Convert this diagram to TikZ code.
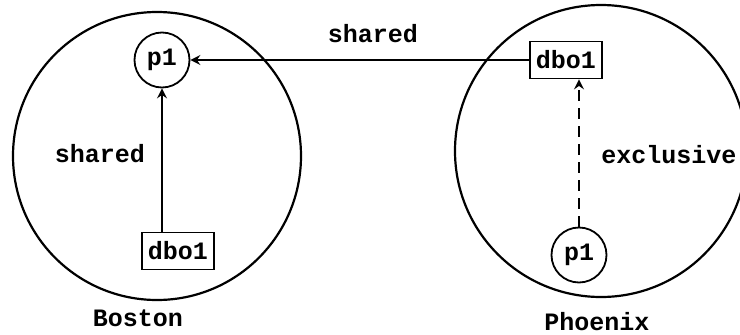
\documentclass[tikz,border=0pt]{standalone}
\usepackage{fontspec}
\setmonofont{Liberation Mono}
\usetikzlibrary{arrows.meta}
\begin{document}
\begin{tikzpicture}[x=1pt,y=-1pt,
  every node/.style={font=\fontsize{25}{30}\selectfont\ttfamily\bfseries},
  site/.style={draw,line width=2.2pt},
  proc/.style={draw,circle,line width=1.8pt,minimum size=55pt,inner sep=0pt},
  obj/.style={draw,rectangle,line width=1.8pt,minimum width=72pt,minimum height=37pt,inner sep=0pt},
  conn/.style={line width=1.8pt,-{Stealth[length=10pt,width=10pt,inset=3.5pt]}},
  lbl/.style={inner sep=0pt}]
\useasboundingbox (0,0) rectangle (740,335);
\draw[site] (157,156) circle[radius=144];
\draw[site] (601,151) circle[radius=146];
\node[proc] (bp1) at (162,60) {p1};
\node[obj] (bdbo) at (178,251) {dbo1};
\node[proc] (pp1) at (579,255) {p1};
\node[obj] (pdbo) at (566,60) {dbo1};
\draw[conn] (bp1 |- bdbo.north) -- (bp1);
\draw[conn] (pdbo) -- (bp1);
\draw[conn,dashed,dash pattern=on 11pt off 7pt] (pp1) -- (pp1 |- pdbo.south);
\node[lbl] (lshared) at (100,154) {shared};
\node[lbl] (tshared) at (373,34) {shared};
\node[lbl] (lexcl) at (669,155) {exclusive};
\node[lbl] (lbos) at (138,318) {Boston};
\node[lbl] (lphx) at (597,322) {Phoenix};
\end{tikzpicture}
\end{document}
